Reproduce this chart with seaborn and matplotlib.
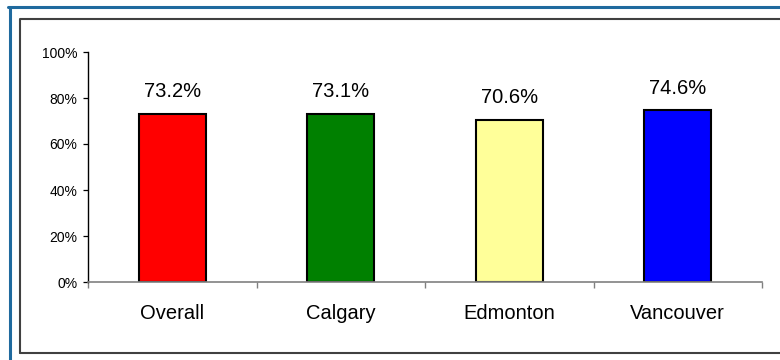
import matplotlib
matplotlib.use("Agg")
import matplotlib.pyplot as plt
from matplotlib.lines import Line2D
from matplotlib.ticker import FixedLocator, PercentFormatter
import seaborn as sns
import pandas as pd

# Share of responses by region
categories = ["Overall", "Calgary", "Edmonton", "Vancouver"]
values = [73.2, 73.1, 70.6, 74.6]
bar_colors = ["#FF0000", "#008000", "#FFFF99", "#0000FF"]
y_ticks = [0, 20, 40, 60, 80, 100]

sns.set_theme(style="white")
plt.rcParams["font.family"] = ["Liberation Sans", "DejaVu Sans"]

W, H = 780, 360
fig = plt.figure(figsize=(W / 100, H / 100), dpi=100)
fig.patch.set_facecolor("white")

# Axes placed in pixel terms: y axis at x=88, top at y=52, baseline at y=282
ax = fig.add_axes([88 / W, 1 - 282 / H, (762 - 88) / W, (282 - 52) / H])

df = pd.DataFrame({"region": categories, "pct": values})
sns.barplot(data=df, x="region", y="pct", hue="region",
            palette=dict(zip(categories, bar_colors)), legend=False, saturation=1,
            width=0.4, edgecolor="black", linewidth=1.5, ax=ax)

ax.set_ylim(0, 100)
ax.set_xlim(-0.5, len(categories) - 0.5)
ax.set_yticks(y_ticks)
ax.yaxis.set_major_formatter(PercentFormatter(decimals=0))
ax.set_xlabel("")
ax.set_ylabel("")

# Value labels above each bar
for i, v in enumerate(values):
    ax.annotate(f"{v:.1f}%", xy=(i, v), xytext=(0, 12), textcoords="offset points",
                ha="center", va="baseline", fontsize=14.5, color="black")

# Spines
for s in ("top", "right"):
    ax.spines[s].set_visible(False)
ax.spines["left"].set_color("black")
ax.spines["left"].set_linewidth(1.0)
ax.spines["bottom"].set_color("#808080")
ax.spines["bottom"].set_linewidth(1.2)

# Ticks: y outward, x labels centred with tick marks at category boundaries
ax.tick_params(axis="y", direction="out", length=3.3, width=0.9, color="black",
               pad=4.3, labelsize=10, labelcolor="black", left=True)
ax.tick_params(axis="x", which="major", length=0, pad=16, labelsize=14.5,
               labelcolor="black")
ax.xaxis.set_minor_locator(FixedLocator([b - 0.5 for b in range(len(categories) + 1)]))
ax.tick_params(axis="x", which="minor", direction="out", length=4.3, width=1.0,
               color="#808080", bottom=True)
ax.grid(False)

# Outer frames
fx = lambda px: px / W
fy = lambda py: 1 - py / H
blue = "#1F6A9E"
fig.add_artist(Line2D([fx(9.5), fx(9.5)], [fy(6.5), fy(H + 5)], color=blue, lw=2.2,
                      transform=fig.transFigure))
fig.add_artist(Line2D([fx(8), fx(W + 5)], [fy(6.5), fy(6.5)], color=blue, lw=2.2,
                      transform=fig.transFigure))
gray = "#404040"
fig.add_artist(Line2D([fx(20), fx(20), fx(W + 5)], [fy(353), fy(19), fy(19)], color=gray,
                      lw=1.5, transform=fig.transFigure))
fig.add_artist(Line2D([fx(20), fx(W + 5)], [fy(353), fy(353)], color=gray,
                      lw=1.5, transform=fig.transFigure))

fig.savefig("out.png", dpi=100)
